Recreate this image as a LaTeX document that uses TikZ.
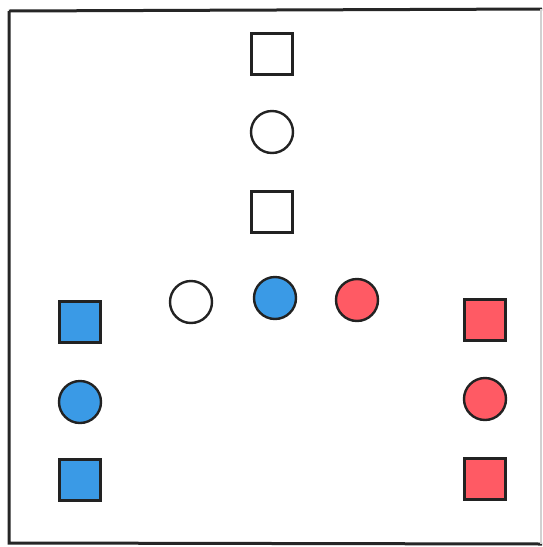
\documentclass[tikz,border=0pt]{standalone}
\definecolor{fillblue}{HTML}{3A9AE6}
\definecolor{fillred}{HTML}{FF5A64}
\definecolor{edge}{HTML}{222222}
\begin{document}
\begin{tikzpicture}[x=1pt,y=-1pt,
  sq/.style={draw=edge,line width=2.4pt,rectangle,minimum size=41pt,inner sep=0pt},
  ci/.style={draw=edge,line width=2.4pt,circle,minimum size=42pt,inner sep=0pt},
  frame/.style={draw=black!85,line width=3pt}]
\useasboundingbox (0,0) rectangle (542,547);
\fill[white] (0,0) rectangle (542,547);
\draw[frame] (9,11) -- (542,9);
\draw[frame] (9,11) -- (9,543) -- (542,544);
\draw[draw=black!18,line width=1.5pt] (541,9) -- (541,544);
\node[sq,fill=white] (sqa) at (272,54) {};
\node[ci,fill=white] (cia) at (272,132) {};
\node[sq,fill=white] (sqb) at (272,212) {};
\node[ci,fill=white] (wc) at (191,302) {};
\node[ci,fill=fillblue] (bc) at (275,298) {};
\node[ci,fill=fillred] (rc) at (357,300) {};
\node[sq,fill=fillblue] (bsqa) at (80,322) {};
\node[ci,fill=fillblue] (bcb) at (80,402) {};
\node[sq,fill=fillblue] (bsqb) at (80,480) {};
\node[sq,fill=fillred] (rsqa) at (485,320) {};
\node[ci,fill=fillred] (rcb) at (485,399) {};
\node[sq,fill=fillred] (rsqb) at (485,479) {};
\end{tikzpicture}
\end{document}
